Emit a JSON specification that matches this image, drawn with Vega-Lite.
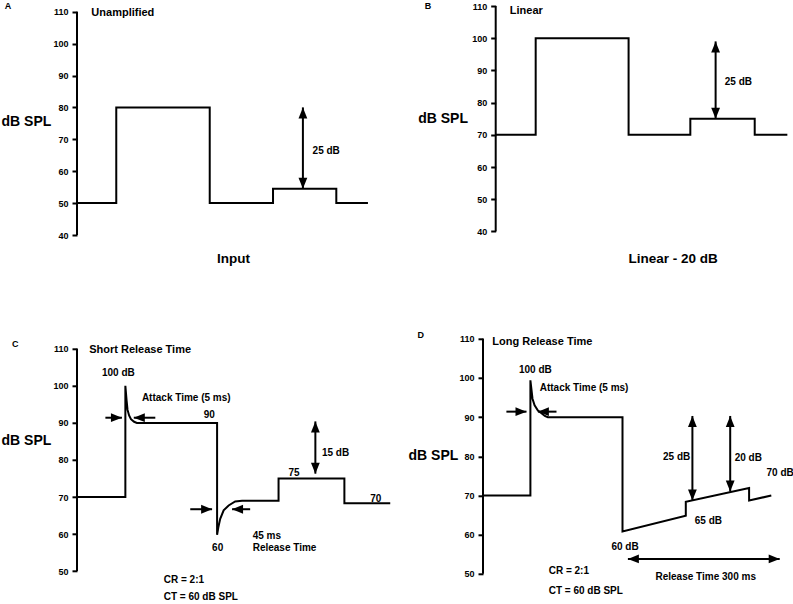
{
  "$schema": "https://vega.github.io/schema/vega-lite/v6.json",
  "background": "white",
  "padding": {"left": 1, "top": 1, "right": 0, "bottom": 0},
  "config": {
    "view": {"stroke": null},
    "axis": {"domain": false, "grid": false, "tickColor": "black", "tickWidth": 2, "tickSize": 5, "labelFont": "Liberation Sans", "labelFontWeight": "bold", "labelFontSize": 9, "labelColor": "black", "labelPadding": 4, "titleFont": "Liberation Sans", "titleFontWeight": "bold", "titleFontSize": 14, "titleColor": "black", "titleAngle": 0, "titleAlign": "left", "titleBaseline": "middle"},
    "text": {"font": "Liberation Sans", "fontWeight": "bold", "color": "black", "align": "left", "baseline": "middle"}
  },
  "datasets": {
    "axisA": [{"t": 0, "db": 40, "db2": 110}],
    "lineA": [
      {"i": 1, "t": 0, "db": 50}, {"i": 2, "t": 13.4, "db": 50}, {"i": 3, "t": 13.4, "db": 80}, {"i": 4, "t": 45.3, "db": 80},
      {"i": 5, "t": 45.3, "db": 50}, {"i": 6, "t": 66.9, "db": 50}, {"i": 7, "t": 66.9, "db": 54.5}, {"i": 8, "t": 88.5, "db": 54.5},
      {"i": 9, "t": 88.5, "db": 50}, {"i": 10, "t": 99.3, "db": 50}
    ],
    "arrA": [{"t": 77.1, "db": 80, "t2": 77.1, "db2": 54.5}],
    "headA": [{"t": 77.1, "db": 80, "dir": "up"}, {"t": 77.1, "db": 54.5, "dir": "down"}],
    "txtA": [
      {"t": -24.7, "db": 111.9, "label": "A", "role": "letter"},
      {"t": 4.9, "db": 109.6, "label": "Unamplified", "role": "title"},
      {"t": 80.4, "db": 66.4, "label": "25 dB", "role": "label"},
      {"t": 47.8, "db": 32.6, "label": "Input", "role": "caption"}
    ],
    "axisB": [{"t": 0, "db": 40, "db2": 110}],
    "lineB": [
      {"i": 1, "t": 0, "db": 70}, {"i": 2, "t": 13.6, "db": 70}, {"i": 3, "t": 13.6, "db": 100}, {"i": 4, "t": 45.2, "db": 100},
      {"i": 5, "t": 45.2, "db": 70}, {"i": 6, "t": 66.2, "db": 70}, {"i": 7, "t": 66.2, "db": 75}, {"i": 8, "t": 88.1, "db": 75},
      {"i": 9, "t": 88.1, "db": 70}, {"i": 10, "t": 99.2, "db": 70}
    ],
    "arrB": [{"t": 74.8, "db": 99, "t2": 74.8, "db2": 75}],
    "headB": [{"t": 74.8, "db": 99, "dir": "up"}, {"t": 74.8, "db": 75, "dir": "down"}],
    "txtB": [
      {"t": -24.1, "db": 110, "label": "B", "role": "letter"},
      {"t": 4.8, "db": 108.5, "label": "Linear", "role": "title"},
      {"t": 77.9, "db": 86.3, "label": "25 dB", "role": "label"},
      {"t": 45.2, "db": 31.4, "label": "Linear - 20 dB", "role": "caption"}
    ],
    "axisC": [{"t": 0, "db": 50, "db2": 110}],
    "lineC": [
      {"i": 1, "t": 0, "db": 70}, {"i": 2, "t": 15.5, "db": 70}, {"i": 3, "t": 15.5, "db": 100}, {"i": 4, "t": 15.9, "db": 96},
      {"i": 5, "t": 16.2, "db": 93.5}, {"i": 6, "t": 16.7, "db": 92}, {"i": 7, "t": 17.3, "db": 91}, {"i": 8, "t": 18.3, "db": 90.3},
      {"i": 9, "t": 19.2, "db": 90}, {"i": 10, "t": 44.9, "db": 90}, {"i": 11, "t": 44.9, "db": 59.8}, {"i": 12, "t": 45.3, "db": 61.8},
      {"i": 13, "t": 45.9, "db": 64.1}, {"i": 14, "t": 47.0, "db": 66.4}, {"i": 15, "t": 48.6, "db": 67.7}, {"i": 16, "t": 50.7, "db": 68.8},
      {"i": 17, "t": 52.9, "db": 69}, {"i": 18, "t": 64.6, "db": 69}, {"i": 19, "t": 64.6, "db": 75}, {"i": 20, "t": 85.7, "db": 75},
      {"i": 21, "t": 85.7, "db": 68.3}, {"i": 22, "t": 100.4, "db": 68.3}
    ],
    "arrC": [
      {"t": 76.4, "db": 90.4, "t2": 76.4, "db2": 76.3},
      {"t": 9.1, "db": 91.4, "t2": 14.4, "db2": 91.4},
      {"t": 18.2, "db": 91.4, "t2": 25.1, "db2": 91.4},
      {"t": 36.3, "db": 66.7, "t2": 43.3, "db2": 66.7},
      {"t": 49.7, "db": 66.7, "t2": 55.5, "db2": 66.7}
    ],
    "headC": [
      {"t": 76.4, "db": 90.4, "dir": "up"}, {"t": 76.4, "db": 76.3, "dir": "down"},
      {"t": 14.4, "db": 91.4, "dir": "right"}, {"t": 18.2, "db": 91.4, "dir": "left"},
      {"t": 43.3, "db": 66.7, "dir": "right"}, {"t": 49.7, "db": 66.7, "dir": "left"}
    ],
    "txtC": [
      {"t": -20.8, "db": 111.3, "label": "C", "role": "letter"},
      {"t": 3.9, "db": 109.8, "label": "Short Release Time", "role": "title"},
      {"t": 8.0, "db": 103.5, "label": "100 dB", "role": "label"},
      {"t": 20.8, "db": 96.7, "label": "Attack Time (5 ms)", "role": "label"},
      {"t": 40.6, "db": 92, "label": "90", "role": "label"},
      {"t": 78.5, "db": 81.9, "label": "15 dB", "role": "label"},
      {"t": 67.8, "db": 76.5, "label": "75", "role": "label"},
      {"t": 94.0, "db": 69.5, "label": "70", "role": "label"},
      {"t": 43.3, "db": 56.2, "label": "60", "role": "label"},
      {"t": 56.3, "db": 59.6, "label": "45 ms", "role": "label"},
      {"t": 56.3, "db": 56.2, "label": "Release Time", "role": "label"},
      {"t": 27.8, "db": 47.5, "label": "CR = 2:1", "role": "label"},
      {"t": 27.8, "db": 42.9, "label": "CT = 60 dB SPL", "role": "label"}
    ],
    "axisD": [{"t": 0, "db": 50, "db2": 110}],
    "lineD": [
      {"i": 1, "t": 0, "db": 70}, {"i": 2, "t": 15.8, "db": 70}, {"i": 3, "t": 15.8, "db": 99.4}, {"i": 4, "t": 16.5, "db": 94.7},
      {"i": 5, "t": 17.2, "db": 93}, {"i": 6, "t": 18.3, "db": 91.7}, {"i": 7, "t": 19.5, "db": 91}, {"i": 8, "t": 20.6, "db": 90.3},
      {"i": 9, "t": 21.6, "db": 90}, {"i": 10, "t": 46.5, "db": 90}, {"i": 11, "t": 46.5, "db": 60.8}, {"i": 12, "t": 67.6, "db": 64.8},
      {"i": 13, "t": 67.6, "db": 68.4}, {"i": 14, "t": 88.7, "db": 71.9}, {"i": 15, "t": 88.7, "db": 68.7}, {"i": 16, "t": 96.1, "db": 70}
    ],
    "arrD": [
      {"t": 7.8, "db": 91.4, "t2": 14.5, "db2": 91.4},
      {"t": 18.3, "db": 91.4, "t2": 24.5, "db2": 91.4},
      {"t": 69.8, "db": 90.3, "t2": 69.8, "db2": 68.7},
      {"t": 82.4, "db": 90.3, "t2": 82.4, "db2": 71},
      {"t": 48.3, "db": 53.8, "t2": 98.9, "db2": 53.8}
    ],
    "headD": [
      {"t": 14.5, "db": 91.4, "dir": "right"}, {"t": 18.3, "db": 91.4, "dir": "left"},
      {"t": 69.8, "db": 90.3, "dir": "up"}, {"t": 69.8, "db": 68.7, "dir": "down"},
      {"t": 82.4, "db": 90.3, "dir": "up"}, {"t": 82.4, "db": 71, "dir": "down"},
      {"t": 48.3, "db": 53.8, "dir": "left"}, {"t": 98.9, "db": 53.8, "dir": "right"}
    ],
    "txtD": [
      {"t": -21.8, "db": 111, "label": "D", "role": "letter"},
      {"t": 3.1, "db": 109.3, "label": "Long Release Time", "role": "title"},
      {"t": 12.0, "db": 102.1, "label": "100 dB", "role": "label"},
      {"t": 18.9, "db": 97.4, "label": "Attack Time (5 ms)", "role": "label"},
      {"t": 60.0, "db": 79.8, "label": "25 dB", "role": "label"},
      {"t": 83.9, "db": 79.5, "label": "20 dB", "role": "label"},
      {"t": 94.5, "db": 75.8, "label": "70 dB", "role": "label"},
      {"t": 70.6, "db": 63.4, "label": "65 dB", "role": "label"},
      {"t": 42.8, "db": 56.8, "label": "60 dB", "role": "label"},
      {"t": 57.5, "db": 49.1, "label": "Release Time 300 ms", "role": "label"},
      {"t": 21.9, "db": 50.6, "label": "CR = 2:1", "role": "label"},
      {"t": 21.9, "db": 45.7, "label": "CT = 60 dB SPL", "role": "label"}
    ]
  },
  "bounds": "full",
  "spacing": 64.8,
  "vconcat": [
    {
      "bounds": "flush",
      "spacing": 125.7,
      "hconcat": [
        {
          "width": 293, "height": 229,
          "encoding": {
            "x": {"field": "t", "type": "quantitative", "scale": {"domain": [0, 100], "nice": false, "zero": false}, "axis": null},
            "y": {"field": "db", "type": "quantitative", "scale": {"domain": [40, 111.79], "nice": false, "zero": false}, "axis": {"values": [40, 50, 60, 70, 80, 90, 100, 110], "title": "dB SPL", "titleX": -76, "titleY": 115.4}}
          },
          "layer": [
            {"data": {"name": "axisA"}, "mark": {"type": "rule", "color": "black", "strokeWidth": 2}, "encoding": {"y2": {"field": "db2"}}},
            {"data": {"name": "lineA"}, "mark": {"type": "line", "color": "black", "strokeWidth": 2}, "encoding": {"order": {"field": "i", "type": "quantitative"}}},
            {"data": {"name": "arrA"}, "mark": {"type": "rule", "color": "black", "strokeWidth": 2}, "encoding": {"x2": {"field": "t2"}, "y2": {"field": "db2"}}},
            {"data": {"name": "headA"}, "mark": {"type": "point", "filled": true, "color": "black", "size": 121, "opacity": 1, "strokeWidth": 0}, "encoding": {"shape": {"field": "dir", "type": "nominal", "legend": null, "scale": {"domain": ["up", "down", "left", "right"], "range": ["M0,0L0.8,2L-0.8,2Z", "M0,0L0.8,-2L-0.8,-2Z", "M0,0L2,0.8L2,-0.8Z", "M0,0L-2,0.8L-2,-0.8Z"]}}}},
            {"data": {"name": "txtA"}, "transform": [{"filter": "datum.role === 'letter'"}], "mark": {"type": "text", "fontSize": 9}, "encoding": {"text": {"field": "label"}}},
            {"data": {"name": "txtA"}, "transform": [{"filter": "datum.role === 'title'"}], "mark": {"type": "text", "fontSize": 11}, "encoding": {"text": {"field": "label"}}},
            {"data": {"name": "txtA"}, "transform": [{"filter": "datum.role === 'label'"}], "mark": {"type": "text", "fontSize": 10}, "encoding": {"text": {"field": "label"}}},
            {"data": {"name": "txtA"}, "transform": [{"filter": "datum.role === 'caption'"}], "mark": {"type": "text", "fontSize": 13.5}, "encoding": {"text": {"field": "label"}}}
          ]
        },
        {
          "width": 294, "height": 225.4,
          "encoding": {
            "x": {"field": "t", "type": "quantitative", "scale": {"domain": [0, 100], "nice": false, "zero": false}, "axis": null},
            "y": {"field": "db", "type": "quantitative", "scale": {"domain": [40, 110], "nice": false, "zero": false}, "axis": {"values": [40, 50, 60, 70, 80, 90, 100, 110], "title": "dB SPL", "titleX": -78, "titleY": 112.7}}
          },
          "layer": [
            {"data": {"name": "axisB"}, "mark": {"type": "rule", "color": "black", "strokeWidth": 2}, "encoding": {"y2": {"field": "db2"}}},
            {"data": {"name": "lineB"}, "mark": {"type": "line", "color": "black", "strokeWidth": 2}, "encoding": {"order": {"field": "i", "type": "quantitative"}}},
            {"data": {"name": "arrB"}, "mark": {"type": "rule", "color": "black", "strokeWidth": 2}, "encoding": {"x2": {"field": "t2"}, "y2": {"field": "db2"}}},
            {"data": {"name": "headB"}, "mark": {"type": "point", "filled": true, "color": "black", "size": 121, "opacity": 1, "strokeWidth": 0}, "encoding": {"shape": {"field": "dir", "type": "nominal", "legend": null, "scale": {"domain": ["up", "down", "left", "right"], "range": ["M0,0L0.8,2L-0.8,2Z", "M0,0L0.8,-2L-0.8,-2Z", "M0,0L2,0.8L2,-0.8Z", "M0,0L-2,0.8L-2,-0.8Z"]}}}},
            {"data": {"name": "txtB"}, "transform": [{"filter": "datum.role === 'letter'"}], "mark": {"type": "text", "fontSize": 9}, "encoding": {"text": {"field": "label"}}},
            {"data": {"name": "txtB"}, "transform": [{"filter": "datum.role === 'title'"}], "mark": {"type": "text", "fontSize": 11}, "encoding": {"text": {"field": "label"}}},
            {"data": {"name": "txtB"}, "transform": [{"filter": "datum.role === 'label'"}], "mark": {"type": "text", "fontSize": 10}, "encoding": {"text": {"field": "label"}}},
            {"data": {"name": "txtB"}, "transform": [{"filter": "datum.role === 'caption'"}], "mark": {"type": "text", "fontSize": 13.5}, "encoding": {"text": {"field": "label"}}}
          ]
        }
      ]
    },
    {
      "bounds": "flush",
      "spacing": 94,
      "hconcat": [
        {
          "width": 312, "height": 232.3,
          "encoding": {
            "x": {"field": "t", "type": "quantitative", "scale": {"domain": [0, 100], "nice": false, "zero": false}, "axis": null},
            "y": {"field": "db", "type": "quantitative", "scale": {"domain": [50, 112.7], "nice": false, "zero": false}, "axis": {"values": [50, 60, 70, 80, 90, 100, 110], "title": "dB SPL", "titleX": -76, "titleY": 101.7}}
          },
          "layer": [
            {"data": {"name": "axisC"}, "mark": {"type": "rule", "color": "black", "strokeWidth": 2}, "encoding": {"y2": {"field": "db2"}}},
            {"data": {"name": "lineC"}, "mark": {"type": "line", "color": "black", "strokeWidth": 2}, "encoding": {"order": {"field": "i", "type": "quantitative"}}},
            {"data": {"name": "arrC"}, "mark": {"type": "rule", "color": "black", "strokeWidth": 2}, "encoding": {"x2": {"field": "t2"}, "y2": {"field": "db2"}}},
            {"data": {"name": "headC"}, "mark": {"type": "point", "filled": true, "color": "black", "size": 121, "opacity": 1, "strokeWidth": 0}, "encoding": {"shape": {"field": "dir", "type": "nominal", "legend": null, "scale": {"domain": ["up", "down", "left", "right"], "range": ["M0,0L0.8,2L-0.8,2Z", "M0,0L0.8,-2L-0.8,-2Z", "M0,0L2,0.8L2,-0.8Z", "M0,0L-2,0.8L-2,-0.8Z"]}}}},
            {"data": {"name": "txtC"}, "transform": [{"filter": "datum.role === 'letter'"}], "mark": {"type": "text", "fontSize": 9}, "encoding": {"text": {"field": "label"}}},
            {"data": {"name": "txtC"}, "transform": [{"filter": "datum.role === 'title'"}], "mark": {"type": "text", "fontSize": 11}, "encoding": {"text": {"field": "label"}}},
            {"data": {"name": "txtC"}, "transform": [{"filter": "datum.role === 'label'"}], "mark": {"type": "text", "fontSize": 10}, "encoding": {"text": {"field": "label"}}}
          ]
        },
        {
          "width": 300, "height": 235,
          "encoding": {
            "x": {"field": "t", "type": "quantitative", "scale": {"domain": [0, 100], "nice": false, "zero": false}, "axis": null},
            "y": {"field": "db", "type": "quantitative", "scale": {"domain": [50, 110], "nice": false, "zero": false}, "axis": {"values": [50, 60, 70, 80, 90, 100, 110], "title": "dB SPL", "titleX": -75, "titleY": 116.7}}
          },
          "layer": [
            {"data": {"name": "axisD"}, "mark": {"type": "rule", "color": "black", "strokeWidth": 2}, "encoding": {"y2": {"field": "db2"}}},
            {"data": {"name": "lineD"}, "mark": {"type": "line", "color": "black", "strokeWidth": 2}, "encoding": {"order": {"field": "i", "type": "quantitative"}}},
            {"data": {"name": "arrD"}, "mark": {"type": "rule", "color": "black", "strokeWidth": 2}, "encoding": {"x2": {"field": "t2"}, "y2": {"field": "db2"}}},
            {"data": {"name": "headD"}, "mark": {"type": "point", "filled": true, "color": "black", "size": 121, "opacity": 1, "strokeWidth": 0}, "encoding": {"shape": {"field": "dir", "type": "nominal", "legend": null, "scale": {"domain": ["up", "down", "left", "right"], "range": ["M0,0L0.8,2L-0.8,2Z", "M0,0L0.8,-2L-0.8,-2Z", "M0,0L2,0.8L2,-0.8Z", "M0,0L-2,0.8L-2,-0.8Z"]}}}},
            {"data": {"name": "txtD"}, "transform": [{"filter": "datum.role === 'letter'"}], "mark": {"type": "text", "fontSize": 9}, "encoding": {"text": {"field": "label"}}},
            {"data": {"name": "txtD"}, "transform": [{"filter": "datum.role === 'title'"}], "mark": {"type": "text", "fontSize": 11}, "encoding": {"text": {"field": "label"}}},
            {"data": {"name": "txtD"}, "transform": [{"filter": "datum.role === 'label'"}], "mark": {"type": "text", "fontSize": 10}, "encoding": {"text": {"field": "label"}}}
          ]
        }
      ]
    }
  ]
}
